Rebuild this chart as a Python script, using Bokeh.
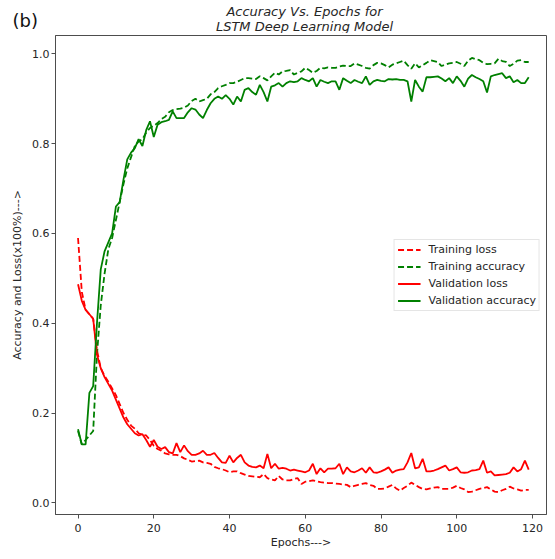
from bokeh.plotting import figure
from bokeh.layouts import column
from bokeh.models import Range1d, FixedTicker, Legend, LegendItem, PrintfTickFormatter
from bokeh.core.properties import value
from bokeh.embed import file_html
from bokeh.resources import INLINE

epochs = list(range(120))

train_loss = [
    0.59, 0.47, 0.43, 0.42, 0.41, 0.34, 0.30, 0.283, 0.27, 0.255,
    0.24, 0.22, 0.20, 0.185, 0.172, 0.165, 0.155, 0.152, 0.15, 0.14,
    0.127, 0.12, 0.116, 0.11, 0.108, 0.107, 0.107, 0.104, 0.099, 0.096,
    0.092, 0.093, 0.094, 0.09, 0.089, 0.087, 0.08, 0.077, 0.075, 0.072,
    0.068, 0.07, 0.07, 0.066, 0.063, 0.06, 0.059, 0.058, 0.057, 0.064,
    0.055, 0.052, 0.05, 0.06, 0.052, 0.05, 0.05, 0.053, 0.055, 0.042,
    0.047, 0.048, 0.05, 0.048, 0.046, 0.045, 0.044, 0.044, 0.043, 0.042,
    0.041, 0.04, 0.035, 0.038, 0.04, 0.042, 0.044, 0.04, 0.038, 0.031,
    0.031, 0.032, 0.036, 0.04, 0.032, 0.027, 0.033, 0.038, 0.045, 0.04,
    0.035, 0.031, 0.03, 0.032, 0.034, 0.035, 0.031, 0.031, 0.031, 0.034,
    0.038, 0.033, 0.03, 0.024, 0.025, 0.028, 0.031, 0.033, 0.035, 0.03,
    0.025, 0.024, 0.028, 0.031, 0.036, 0.032, 0.03, 0.027, 0.029, 0.029,
]

train_acc = [
    0.16, 0.13, 0.14, 0.15, 0.16, 0.33, 0.44, 0.51, 0.565, 0.59,
    0.63, 0.67, 0.71, 0.745, 0.77, 0.795, 0.805, 0.81, 0.825, 0.835,
    0.84, 0.846, 0.855, 0.86, 0.87, 0.875, 0.877, 0.878, 0.88, 0.885,
    0.895, 0.90, 0.894, 0.897, 0.90, 0.91, 0.915, 0.924, 0.928, 0.931,
    0.935, 0.935, 0.938, 0.942, 0.946, 0.946, 0.945, 0.944, 0.95, 0.946,
    0.941, 0.95, 0.958, 0.954, 0.961, 0.962, 0.964, 0.954, 0.958, 0.961,
    0.969, 0.964, 0.958, 0.962, 0.969, 0.968, 0.97, 0.969, 0.969, 0.972,
    0.974, 0.973, 0.973, 0.979, 0.976, 0.973, 0.969, 0.967, 0.975, 0.98,
    0.979, 0.975, 0.97, 0.976, 0.979, 0.982, 0.985, 0.975, 0.967, 0.979,
    0.97, 0.975, 0.98, 0.986, 0.984, 0.982, 0.973, 0.976, 0.979, 0.98,
    0.982, 0.978, 0.973, 0.985, 0.991, 0.988, 0.986, 0.98, 0.977, 0.978,
    0.979, 0.989, 0.984, 0.982, 0.973, 0.978, 0.985, 0.986, 0.982, 0.982,
]

val_loss = [
    0.487, 0.45, 0.43, 0.42, 0.41, 0.33, 0.30, 0.28, 0.265, 0.25,
    0.23, 0.21, 0.19, 0.175, 0.165, 0.155, 0.15, 0.153, 0.14, 0.125,
    0.14, 0.125, 0.12, 0.124, 0.113, 0.11, 0.133, 0.113, 0.128, 0.115,
    0.107, 0.107, 0.11, 0.116, 0.107, 0.107, 0.111, 0.10, 0.09, 0.089,
    0.105, 0.09, 0.10, 0.107, 0.09, 0.083, 0.08, 0.079, 0.083, 0.077,
    0.109, 0.077, 0.087, 0.076, 0.078, 0.076, 0.072, 0.074, 0.072, 0.07,
    0.068, 0.072, 0.087, 0.064, 0.077, 0.068, 0.076, 0.076, 0.077, 0.087,
    0.064, 0.079, 0.07, 0.068, 0.072, 0.077, 0.067, 0.079, 0.068, 0.067,
    0.07, 0.074, 0.079, 0.067, 0.072, 0.074, 0.075, 0.09, 0.111, 0.077,
    0.079, 0.098, 0.07, 0.07, 0.072, 0.075, 0.079, 0.083, 0.072, 0.075,
    0.079, 0.068, 0.067, 0.068, 0.072, 0.073, 0.075, 0.094, 0.067, 0.07,
    0.061, 0.062, 0.063, 0.064, 0.067, 0.079, 0.07, 0.075, 0.094, 0.074,
]

val_acc = [
    0.164, 0.13, 0.13, 0.245, 0.26, 0.40, 0.52, 0.56, 0.58, 0.60,
    0.66, 0.67, 0.72, 0.765, 0.78, 0.79, 0.81, 0.795, 0.83, 0.85,
    0.815, 0.842, 0.848, 0.85, 0.853, 0.872, 0.857, 0.857, 0.857, 0.87,
    0.879, 0.876, 0.865, 0.857, 0.875, 0.89, 0.90, 0.905, 0.90, 0.908,
    0.90, 0.887, 0.905, 0.894, 0.92, 0.924, 0.915, 0.909, 0.931, 0.915,
    0.894, 0.927, 0.93, 0.935, 0.927, 0.935, 0.939, 0.937, 0.939, 0.946,
    0.942, 0.939, 0.946, 0.927, 0.942, 0.938, 0.935, 0.939, 0.939, 0.92,
    0.946, 0.94, 0.935, 0.942, 0.938, 0.935, 0.95, 0.931, 0.939, 0.942,
    0.94, 0.939, 0.944, 0.943, 0.944, 0.942, 0.942, 0.939, 0.894, 0.942,
    0.927, 0.916, 0.948, 0.948, 0.949, 0.95, 0.945, 0.939, 0.946, 0.935,
    0.95, 0.94, 0.927, 0.945, 0.953, 0.948, 0.944, 0.939, 0.914, 0.95,
    0.953, 0.955, 0.957, 0.946, 0.95, 0.937, 0.942, 0.935, 0.935, 0.948,
]

x_ticks = [0, 20, 40, 60, 80, 100, 120]
y_ticks = [0.0, 0.2, 0.4, 0.6, 0.8, 1.0]

FONT = "DejaVu Sans"
TXT = "#262626"
SPINE = "#4d4d4d"
W = 547
TOP_H = 33

# ---- heading strip (panel tag + two-line italic title) ----
head = figure(width=W, height=TOP_H, output_backend="svg", toolbar_location=None,
              x_range=Range1d(0, W), y_range=Range1d(TOP_H, 0),
              x_axis_location=None, y_axis_location=None,
              min_border=0, min_border_left=0, min_border_right=0,
              min_border_top=0, min_border_bottom=0)
head.frame_align = False
head.xgrid.visible = False
head.ygrid.visible = False
head.outline_line_color = None
head.text(x=[12], y=[20], text=["(b)"], text_font=value(FONT), text_font_size="18px",
          text_align="left", text_baseline="middle", text_color="#111111")
head.text(x=[304, 304], y=[10.5, 26],
          text=["Accuracy Vs. Epochs for", "LSTM Deep Learning Model"],
          text_font=value(FONT), text_font_size="13px", text_font_style="italic",
          text_align="center", text_baseline="middle", text_color=TXT)

# ---- main chart ----
p = figure(width=W, height=551 - TOP_H, output_backend="svg", toolbar_location=None,
           x_range=Range1d(-5.95, 123.7), y_range=Range1d(-0.026, 1.041),
           min_border_left=55, min_border_right=1, min_border_top=2, min_border_bottom=36)
p.frame_align = False
p.xgrid.visible = False
p.ygrid.visible = False
p.outline_line_color = SPINE
p.outline_line_width = 1

for ax in (p.xaxis[0], p.yaxis[0]):
    ax.axis_line_color = SPINE
    ax.major_tick_line_color = SPINE
    ax.major_tick_out = 4
    ax.major_tick_in = 0
    ax.minor_tick_line_color = None
    ax.major_label_text_font = FONT
    ax.major_label_text_font_size = "11px"
    ax.major_label_text_color = TXT
    ax.axis_label_text_font = FONT
    ax.axis_label_text_font_size = "11px"
    ax.axis_label_text_font_style = "normal"
    ax.axis_label_text_color = TXT

p.xaxis.ticker = FixedTicker(ticks=x_ticks)
p.yaxis.ticker = FixedTicker(ticks=y_ticks)
p.yaxis.formatter = PrintfTickFormatter(format="%.1f")
p.xaxis.major_label_standoff = 5
p.yaxis.major_label_standoff = 2
p.xaxis.axis_label = "Epochs--->"
p.yaxis.axis_label = "Accuracy and Loss(x100%)--->"
p.xaxis.axis_label_standoff = 1
p.yaxis.axis_label_standoff = 5

lw = 1.8
r1 = p.line(epochs, train_loss, line_color="red", line_width=lw, line_dash="6 3")
r2 = p.line(epochs, train_acc, line_color="green", line_width=lw, line_dash="6 3")
r3 = p.line(epochs, val_loss, line_color="red", line_width=lw)
r4 = p.line(epochs, val_acc, line_color="green", line_width=lw)

legend = Legend(items=[
    LegendItem(label="Training loss", renderers=[r1]),
    LegendItem(label="Training accuracy", renderers=[r2]),
    LegendItem(label="Validation loss", renderers=[r3]),
    LegendItem(label="Validation accuracy", renderers=[r4]),
], location="right")
legend.label_text_font = FONT
legend.label_text_font_size = "11px"
legend.label_text_color = TXT
legend.glyph_width = 23
legend.glyph_height = 13
legend.label_height = 13
legend.label_standoff = 8
legend.spacing = 4
legend.padding = 3
legend.margin = 6
legend.border_line_color = "#cccccc"
legend.border_line_width = 1
legend.background_fill_alpha = 0.85
p.add_layout(legend, "center")

layout = column(head, p, spacing=0)
open("out.html", "w").write(file_html(layout, INLINE))
